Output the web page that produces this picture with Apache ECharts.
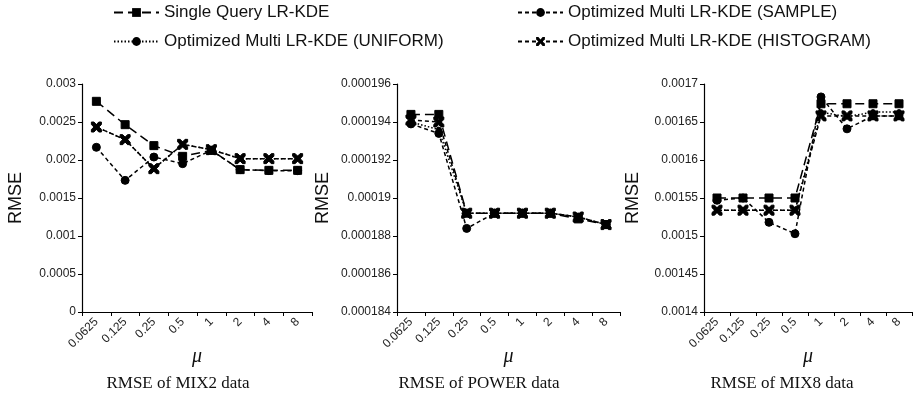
<!DOCTYPE html>
<html><head><meta charset="utf-8">
<script src="https://cdn.jsdelivr.net/npm/echarts@6/dist/echarts.min.js"></script>
<style>html,body{margin:0;padding:0;background:#fff}#c{width:915px;height:395px}</style>
</head><body><div id="c"></div>
<script>
var categories = ['0.0625','0.125','0.25','0.5','1','2','4','8'];
var seriesNames = ['Single Query LR-KDE','Optimized Multi LR-KDE (UNIFORM)','Optimized Multi LR-KDE (SAMPLE)','Optimized Multi LR-KDE (HISTOGRAM)'];
var chartTitles = ['RMSE of MIX2 data','RMSE of POWER data','RMSE of MIX8 data'];

var mix2Single    = [0.002772,0.002465,0.002189,0.002048,0.002127,0.001873,0.001864,0.001864];
var mix2Uniform   = [0.002434,0.002268,0.001886,0.002206,0.002136,0.002018,0.002018,0.002018];
var mix2Sample    = [0.002167,0.001732,0.002039,0.001952,0.002127,0.001873,0.001860,0.001860];
var mix2Histogram = [0.002434,0.002268,0.001886,0.002206,0.002136,0.002018,0.002018,0.002018];

var powerSingle    = [0.0001944,0.0001944,0.0001892,0.0001892,0.0001892,0.0001892,0.0001889,0.0001886];
var powerUniform   = [0.0001940,0.0001936,0.0001892,0.0001892,0.0001892,0.0001892,0.0001890,0.0001886];
var powerSample    = [0.0001939,0.0001934,0.0001884,0.0001892,0.0001892,0.0001892,0.0001890,0.0001886];
var powerHistogram = [0.0001941,0.0001940,0.0001892,0.0001892,0.0001892,0.0001892,0.0001890,0.0001886];

var mix8Single    = [0.001550,0.001550,0.001550,0.001550,0.001674,0.001674,0.001674,0.001674];
var mix8Uniform   = [0.001534,0.001534,0.001534,0.001534,0.001663,0.001657,0.001663,0.001663];
var mix8Sample    = [0.001547,0.001550,0.001518,0.001503,0.001683,0.001641,0.001658,0.001658];
var mix8Histogram = [0.001534,0.001534,0.001534,0.001534,0.001658,0.001658,0.001658,0.001658];

var yMin = [0, 0.000184, 0.0014];
var yMax = [0.003, 0.000196, 0.0017];
var yInterval = [0.0005, 0.000002, 0.00005];

var chartData = [
  [mix2Single, mix2Uniform, mix2Sample, mix2Histogram],
  [powerSingle, powerUniform, powerSample, powerHistogram],
  [mix8Single, mix8Uniform, mix8Sample, mix8Histogram]
];

var crossPath = 'path://M0,0 L2.6,0 L5,2.6 L7.4,0 L10,0 L10,2.6 L7.4,5 L10,7.4 L10,10 L7.4,10 L5,7.4 L2.6,10 L0,10 L0,7.4 L2.6,5 L0,2.6 Z';
var styles = [
  {symbol:'rect', symbolSize:8, dash:[9,5], width:1.5},
  {symbol:'circle', symbolSize:5, dash:[1.5,2], width:1.5},
  {symbol:'circle', symbolSize:8, dash:[4,3], width:1.5},
  {symbol:crossPath, symbolSize:10, dash:[4,3], width:1.5}
];

var grids = [
  {left:82, width:230, top:84, height:228},
  {left:397, width:223, top:84, height:228},
  {left:704, width:208, top:84, height:228}
];
var nameGaps = [57, 65, 62];
var titleCenters = [178, 479, 782];

var fmt = function(v){ return String(parseFloat(v.toFixed(7))); };

var xAxes = [], yAxes = [], series = [], titles = [];
grids.forEach(function(g, i){
  xAxes.push({
    type:'category', gridIndex:i, data:categories, boundaryGap:true,
    axisLine:{lineStyle:{color:'#000', width:1.2}},
    axisTick:{show:true, interval:0, length:4, lineStyle:{color:'#000'}},
    axisLabel:{interval:0, rotate:45, fontFamily:'Liberation Sans', fontSize:12, color:'#222', margin:8},
    name:'\u03bc', nameLocation:'middle', nameGap:35, nameMoveOverlap:false,
    nameTextStyle:{fontFamily:'Liberation Serif', fontStyle:'italic', fontSize:20, color:'#111'}
  });
  yAxes.push({
    type:'value', gridIndex:i, min:yMin[i], max:yMax[i], interval:yInterval[i],
    axisLine:{show:true, lineStyle:{color:'#000', width:1.2}},
    axisTick:{show:true, length:4, lineStyle:{color:'#000'}},
    splitLine:{show:false},
    axisLabel:{formatter:fmt, fontFamily:'Liberation Sans', fontSize:12, color:'#222', margin:6},
    name:'RMSE', nameLocation:'middle', nameGap:nameGaps[i], nameRotate:90, nameMoveOverlap:false,
    nameTextStyle:{fontFamily:'Liberation Sans', fontSize:18, color:'#111'}
  });
  titles.push({
    text:chartTitles[i], left:titleCenters[i], top:375, padding:0, textAlign:'center',
    textStyle:{fontFamily:'Liberation Serif', fontSize:17, fontWeight:'normal', color:'#111'}
  });
  chartData[i].forEach(function(d, k){
    var s = styles[k];
    series.push({
      name:seriesNames[k], type:'line', xAxisIndex:i, yAxisIndex:i, data:d,
      symbol:s.symbol, symbolSize:s.symbolSize, showAllSymbol:true,
      lineStyle:{color:'#000', width:s.width, type:s.dash},
      itemStyle:{color:'#000', borderColor:'#000'},
      emphasis:{disabled:true}, animation:false, z:2 + k
    });
  });
});

var legendPos = [[113,4],[113,33],[517,4],[517,33]];
var legends = seriesNames.map(function(n, k){
  return {
    data:[n], left:legendPos[k][0], top:legendPos[k][1], padding:0,
    itemWidth:45, itemHeight:11, itemGap:4,
    textStyle:{fontFamily:'Liberation Sans', fontSize:17, color:'#111'}
  };
});

var chart = echarts.init(document.getElementById('c'), null, {renderer:'canvas'});
chart.setOption({
  animation:false, backgroundColor:'#fff',
  title:titles, legend:legends, grid:grids, xAxis:xAxes, yAxis:yAxes, series:series
});
</script></body></html>
